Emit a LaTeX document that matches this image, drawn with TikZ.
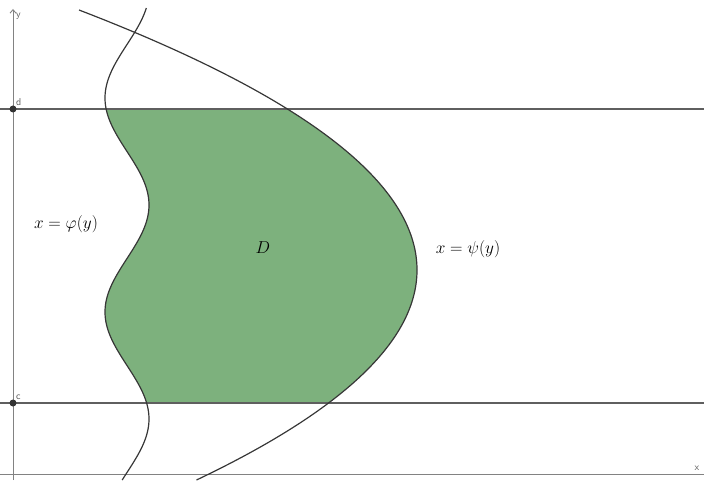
\documentclass[tikz,border=0pt]{standalone}
\usetikzlibrary{arrows.meta}
\definecolor{regfill}{RGB}{125,177,125}
\definecolor{axisgray}{RGB}{130,130,130}
\definecolor{linegray}{RGB}{95,95,95}
\definecolor{curvegray}{RGB}{55,55,55}
\begin{document}
\begin{tikzpicture}[x=1pt,y=1pt,
  axisline/.style={draw=axisgray, line width=0.9pt},
  bandline/.style={draw=linegray, line width=1.6pt},
  curveline/.style={draw=curvegray, line width=1.2pt},
  ptdot/.style={circle, fill=black!80, inner sep=0pt, minimum size=7pt},
  ptlabel/.style={font=\sffamily\fontsize{10}{11}\selectfont, text=black!65, inner sep=0pt},
  mathlabel/.style={font=\fontsize{16}{19}\selectfont, inner sep=0pt}]
\useasboundingbox (0,0) rectangle (704,480);
% region D
\fill[regfill]
  plot[domain=77:371, samples=200, variable=\t] ({127+22*cos((275-\t)*1.682243)}, \t)
  -- plot[domain=371:77, samples=200, variable=\t] ({417-((210-\t)*0.0707107)*((210-\t)*0.0707107)}, \t)
  -- cycle;
% coordinates
\coordinate (xl) at (0,6);
\coordinate (xr) at (704,6);
\coordinate (yb) at (13,0);
\coordinate (yt) at (13,471);
\coordinate (dl) at (0,371);
\coordinate (dr) at (704,371);
\coordinate (cl) at (0,77);
\coordinate (cr) at (704,77);
% axes
\draw[axisline] (xl) -- (xr);
\draw[axisline, -{Straight Barb[length=3.5pt,width=6pt]}] (yb) -- (yt);
\node[ptlabel, anchor=west] (ylab) at (16,464) {y};
\node[ptlabel, anchor=center] (xlab) at (697,12) {x};
% lines y=d, y=c
\draw[bandline] (dl) -- (dr);
\draw[bandline] (cl) -- (cr);
\node[ptdot] (dpt) at (13,371) {};
\node[ptdot] (cpt) at (13,77) {};
\node[ptlabel, anchor=south west] (dlab) at (16,374) {d};
\node[ptlabel, anchor=south west] (clab) at (16,80) {c};
% curves
\draw[curveline] plot[domain=0:472, samples=300, variable=\t, smooth] ({127+22*cos((275-\t)*1.682243)}, \t);
\draw[curveline] plot[domain=0:470, samples=300, variable=\t, smooth] ({417-((210-\t)*0.0707107)*((210-\t)*0.0707107)}, \t);
% labels
\node[mathlabel] (phi) at (66,256) {$x=\varphi(y)$};
\node[mathlabel] (D) at (263,232) {$D$};
\node[mathlabel] (psi) at (468,231) {$x=\psi(y)$};
\end{tikzpicture}
\end{document}
